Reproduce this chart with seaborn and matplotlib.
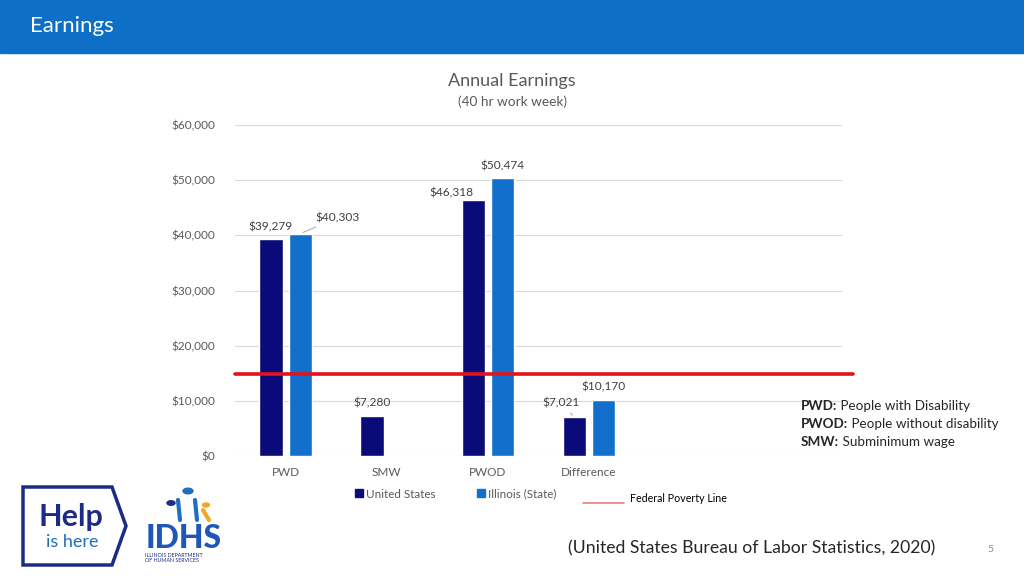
import numpy as np
import pandas as pd
import matplotlib
matplotlib.use("Agg")
import matplotlib.pyplot as plt
from matplotlib.patches import Rectangle, Polygon, Circle
from matplotlib.lines import Line2D
import seaborn as sns

# chart values
categories = ["PWD", "SMW", "PWOD", "Difference"]
regions = ["United States", "Illinois (State)"]
us_values = [39279, 7280, 46318, 7021]
il_values = [40303, np.nan, 50474, 10170]
poverty_line = 14880
y_ticks = [0, 10000, 20000, 30000, 40000, 50000, 60000]

df = pd.DataFrame({
    "Category": categories * 2,
    "Region": [regions[0]] * 4 + [regions[1]] * 4,
    "Earnings": us_values + il_values,
}).dropna()

sns.set_style("white")
plt.rcParams["font.family"] = ["Lato", "DejaVu Sans"]

W, H = 1024, 576
fig = plt.figure(figsize=(W / 100, H / 100), dpi=100)
fig.set_facecolor("white")


def fx(x):
    return x / W


def fy(y):
    return 1 - y / H


# header band
fig.patches.append(Rectangle((0, fy(53)), 1, 53 / H, transform=fig.transFigure,
                             color="#0E6FC7", zorder=0))
fig.text(fx(30), fy(26), "Earnings", color="white", fontsize=16, va="center",
         ha="left")

us_col = "#0A0A78"
il_col = "#1270CC"

ax = fig.add_axes([fx(235), fy(456), fx(842) - fx(235), (456 - 125) / H])
sns.barplot(data=df, x="Category", y="Earnings", hue="Region", order=categories,
            hue_order=regions, palette=[us_col, il_col], width=0.58, gap=0.2,
            saturation=1, legend=False, ax=ax, errorbar=None)
ax.set_xlim(-0.5, 5.5)
ax.set_ylim(0, 60000)
ax.set_yticks(y_ticks)
ax.set_yticklabels([f"${v:,.0f}" for v in y_ticks])
ax.grid(axis="y", color="#D9D9D9", linewidth=0.8)
ax.set_axisbelow(True)
for s in ax.spines.values():
    s.set_visible(False)
ax.tick_params(axis="both", length=0, labelsize=8.5, colors="#595959", pad=8)
ax.tick_params(axis="y", pad=14)
ax.set_xlabel("")
ax.set_ylabel("")

# poverty line
ax.axhline(poverty_line, xmin=0, xmax=1.018, color="#E3121B", linewidth=2.6,
           clip_on=False, zorder=5)

# data labels (offsets in pixels, style only)
offsets = {
    39279: (0, 12, False),
    40303: (37, 16, True),
    46318: (-22, 8, False),
    50474: (0, 12, False),
    7280: (0, 13, False),
    7021: (-13, 14, True),
    10170: (0, 13, False),
}
for bar in ax.patches:
    h = bar.get_height()
    if not np.isfinite(h) or h == 0:
        continue
    key = int(round(h))
    dx, dy, leader = offsets.get(key, (0, 12, False))
    xc = bar.get_x() + bar.get_width() / 2
    arrow = None
    if leader:
        arrow = dict(arrowstyle="-", color="#A6A6A6", linewidth=0.7,
                     shrinkA=1, shrinkB=2)
    ax.annotate(f"${h:,.0f}", (xc, h), xytext=(dx, dy), textcoords="offset pixels",
                ha="center", va="center", fontsize=8.6, color="#404040",
                arrowprops=arrow, annotation_clip=False)

# titles
fig.text(0.5, fy(81), "Annual Earnings", ha="center", va="center", fontsize=13,
         color="#595959")
fig.text(0.5, fy(102), "(40 hr work week)", ha="center", va="center", fontsize=9.8,
         color="#595959")

# legend
handles = [Line2D([], [], marker="s", linestyle="none", color=us_col, markersize=5.5),
           Line2D([], [], marker="s", linestyle="none", color=il_col, markersize=5.5)]
fig.legend(handles, regions, loc="center", bbox_to_anchor=(fx(455), fy(494)),
           ncol=2, frameon=False, fontsize=8.4, labelcolor="#595959",
           handletextpad=0.1, columnspacing=3.4, handlelength=1)
fig.add_artist(Line2D([fx(583), fx(624)], [fy(503), fy(503)], color="#EE7B7B",
                      linewidth=1.2, transform=fig.transFigure))
fig.text(fx(630), fy(498), "Federal Poverty Line", fontsize=7.7, va="center",
         color="black")

# acronym notes
notes = [("PWD:", " People with Disability"),
         ("PWOD:", " People without disability"),
         ("SMW:", " Subminimum wage")]
for i, (b, t) in enumerate(notes):
    y = fy(406 + 18 * i)
    tb = fig.text(fx(801), y, b, fontsize=9.7, fontweight="bold", va="center")
    fig.canvas.draw()
    bb = tb.get_window_extent()
    fig.text(bb.x1 / W, y, t, fontsize=9.7, va="center")

# source and page number
fig.text(fx(568), fy(548), "(United States Bureau of Labor Statistics, 2020)",
         fontsize=12.7, va="center", ha="left")
fig.text(fx(990), fy(550), "5", fontsize=7.5, color="#8C8C8C", va="center",
         ha="center")

# "Help is here" badge
pts = [(23, 487), (112, 487), (126, 526), (112, 565), (23, 565)]
fig.patches.append(Polygon([(fx(x), fy(y)) for x, y in pts], closed=True,
                           transform=fig.transFigure, fill=False,
                           edgecolor="#1B2C86", linewidth=2.5))
fig.text(fx(71), fy(517), "Help", fontsize=22, fontweight="bold",
         color="#1B2C86", ha="center", va="center")
fig.text(fx(72), fy(542), "is here", fontsize=13, color="#1E6FC0",
         ha="center", va="center")

# IDHS logo
fig.text(fx(184), fy(539), "IDHS", fontsize=23, fontweight="black",
         color="#1F56B8", ha="center", va="center")
fig.text(fx(145), fy(558), "ILLINOIS DEPARTMENT\nOF HUMAN SERVICES", fontsize=3.8,
         color="#1B2C86", ha="left", va="center", linespacing=0.9)
for (cx, cy, r, c) in [(188, 491, 5, "#1E6FC0"), (171, 503, 4, "#1B2C86"),
                       (206, 505, 3.5, "#F5A623")]:
    fig.patches.append(Circle((fx(cx), fy(cy)), r / W, transform=fig.transFigure,
                              color=c))
fig.add_artist(Line2D([fx(178), fx(180)], [fy(500), fy(520)], color="#1E6FC0",
                      linewidth=3, transform=fig.transFigure))
fig.add_artist(Line2D([fx(195), fx(197)], [fy(500), fy(520)], color="#1E6FC0",
                      linewidth=3, transform=fig.transFigure))
fig.add_artist(Line2D([fx(203), fx(209)], [fy(510), fy(520)], color="#F5A623",
                      linewidth=3, transform=fig.transFigure))

fig.savefig("out.png", dpi=100)
